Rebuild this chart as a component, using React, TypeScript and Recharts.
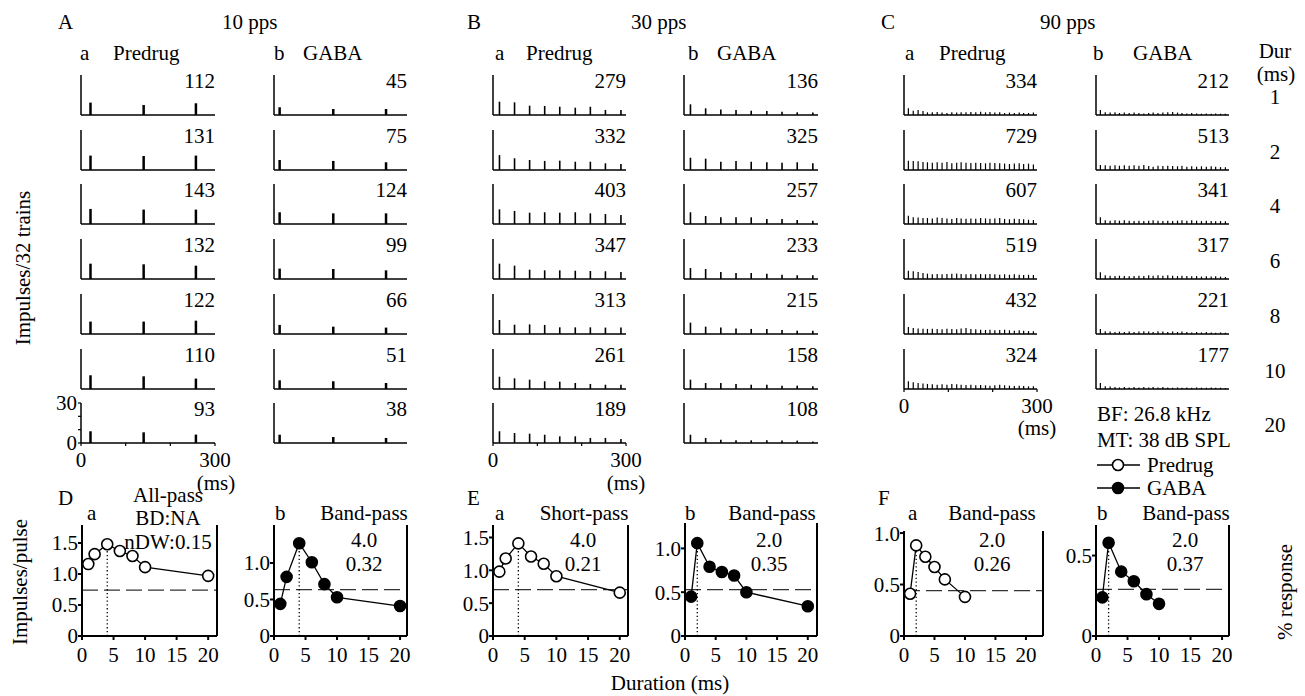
import React from 'react';
import { BarChart, Bar, LineChart, Line, XAxis, YAxis, ReferenceLine } from 'recharts';

const FONT = "'Liberation Serif', 'DejaVu Serif', serif";

const durations = [1, 2, 4, 6, 8, 10, 20];

// spike (pulse) times in ms for each pulse rate
const timesA_pre = [21, 140, 257];
const timesA_gaba = [13, 134, 253];
const timesB = [14, 48, 82, 116, 150, 185, 219, 253, 288];
const timesC = [9, 20, 31, 42, 52, 63, 74, 85, 96, 107, 118, 128, 139, 150, 161, 172, 183, 193, 204, 215, 226, 237, 248, 259, 269, 280, 291];

// total impulses per PSTH
const totalsA_pre = [112, 131, 143, 132, 122, 110, 93];
const totalsA_gaba = [45, 75, 124, 99, 66, 51, 38];
const totalsB_pre = [279, 332, 403, 347, 313, 261, 189];
const totalsB_gaba = [136, 325, 257, 233, 215, 158, 108];
const totalsC_pre = [334, 729, 607, 519, 432, 324];
const totalsC_gaba = [212, 513, 341, 317, 221, 177];

// peak bin counts (impulses/32 trains), one row per duration
const peaksA_pre = [
  [9.3, 7.5, 8.8],
  [10.8, 10.5, 10.8],
  [11.3, 10.8, 10.8],
  [11.5, 11, 10],
  [9.3, 9.3, 10],
  [10.3, 9.5, 7.8],
  [8.8, 8, 6.3],
];
const peaksA_gaba = [
  [5.8, 4.5, 4.5],
  [7.5, 6.8, 5.8],
  [8.8, 8, 8],
  [7.8, 7.5, 6.5],
  [6.8, 5.5, 4.8],
  [6.5, 5.8, 4.5],
  [6.2, 4.5, 3.8],
];
const peaksB_pre = [
  [10, 9.5, 7, 6.8, 6.2, 5.5, 6.2, 3.8, 3.8],
  [11.2, 8.8, 7.5, 6.8, 7, 6.2, 6.2, 5, 4.5],
  [11, 9.8, 8.5, 8.8, 8.5, 8.8, 8, 7.5, 6.8],
  [11.5, 10, 7, 6.5, 6.5, 6.2, 6, 5.8, 5.2],
  [10.5, 7, 7.2, 6.8, 5, 5, 5, 4.8, 4.8],
  [9.2, 8, 7, 5.8, 5.5, 4.5, 3.8, 3.2, 3.2],
  [8.8, 7.5, 7, 6.2, 5, 5, 3.8, 3.8, 3],
];
const peaksB_gaba = [
  [8, 5, 4.2, 3.8, 3.2, 3, 2.5, 2, 1.8],
  [9.2, 8.5, 6.2, 6.8, 6.2, 5.8, 5.5, 5.8, 5],
  [8.8, 6, 5, 5, 5, 3.8, 3.8, 3, 2.5],
  [8.2, 7.5, 5.2, 4.5, 4.5, 4, 3.2, 2.8, 2.8],
  [8.5, 5.5, 4.8, 4.2, 3.8, 3.8, 3, 2.5, 2.5],
  [7, 4.5, 4.5, 3.8, 3.2, 3.2, 2.5, 2.5, 2],
  [6.2, 3.8, 2.5, 2, 2, 2, 1.8, 1.8, 1.2],
];
const peaksC_pre = [
  [5, 3.2, 3.8, 3, 2, 2, 2.2, 1.8, 1.5, 2, 1.8, 2, 2, 2.2, 2, 2.5, 2, 2.2, 1.8, 2, 1.5, 1.8, 1.5, 1.8, 1.5, 1.5, 1.8],
  [7, 6.8, 6.5, 6, 5.8, 5.5, 5.8, 5.5, 6, 5, 5.5, 5.8, 5.5, 5.2, 5.5, 5.2, 5, 5.5, 5.2, 5, 4.8, 4.5, 4.8, 5, 4.5, 4.8, 4.2],
  [6.2, 5, 4.8, 4.5, 4.5, 4.2, 4.8, 4.5, 4.2, 3.8, 4.5, 4.2, 4, 4.2, 4, 4.5, 4.2, 4, 4.2, 4.5, 3.8, 3.5, 4, 3.8, 3.5, 3.2, 3],
  [6.2, 5.8, 5.2, 4.5, 4, 3.5, 3.8, 3.5, 3.8, 4, 4.2, 3.8, 3.5, 3.8, 3.5, 3.8, 3.5, 3.8, 3.5, 3.2, 3.5, 3.2, 3.5, 3.2, 3, 3.2, 3],
  [5.2, 4.5, 4.2, 4, 3.8, 4, 3.8, 3.5, 4, 3.8, 3.5, 4.2, 4.5, 3.8, 3.5, 3.2, 3, 3.2, 2.8, 3, 3.2, 2.8, 2.5, 2.8, 2.5, 2.2, 2],
  [5.8, 5, 4.5, 4.2, 3.8, 3.5, 3.2, 3.5, 3.2, 3.8, 3.5, 3.2, 3, 3.2, 2.8, 3, 2.8, 2.5, 2.8, 3.2, 2.8, 2.5, 2.2, 2.5, 2.2, 2, 2],
];
const peaksC_gaba = [
  [3.8, 2, 1.8, 2, 1.5, 1.8, 1.5, 1.8, 1.5, 1.2, 1.5, 1.8, 1.5, 1.8, 2, 2.2, 1.8, 1.5, 1.2, 1.5, 1.2, 1, 1.2, 1, 1.2, 1, 1],
  [3.8, 3.5, 3.2, 3.5, 3.2, 3.5, 3.2, 3.5, 3.2, 3.8, 3, 2.5, 3.2, 3, 3.2, 3, 2.8, 3.2, 2.5, 2.8, 2.5, 2.8, 2.5, 2.8, 2.5, 2.2, 2],
  [5, 2.8, 2.5, 2.8, 2.5, 2.8, 2.5, 2.2, 2.5, 2.2, 2.5, 2.8, 2.5, 2.2, 2.5, 2.2, 2.5, 2.8, 2.5, 2.8, 2.5, 2.2, 2.5, 2.2, 2, 2.2, 2],
  [5, 2.8, 2.5, 2.2, 2.5, 2.2, 2, 2.2, 2.5, 2.2, 2.8, 2.5, 2.8, 2.5, 2.8, 2.5, 2.2, 2.5, 2.2, 2, 2.2, 1.8, 2, 1.8, 2, 1.8, 1.5],
  [3.8, 2, 1.8, 1.5, 1.8, 1.5, 1.8, 1.5, 1.8, 2, 1.8, 1.5, 2, 1.8, 1.5, 1.8, 1.5, 1.8, 1.5, 1.2, 1.5, 1.2, 1.5, 1.2, 1, 1.2, 1],
  [4.5, 2, 1.8, 1.5, 1.2, 1.5, 1.2, 1.5, 1.2, 1.5, 1.2, 1.5, 1.2, 1.5, 1.2, 1, 1.2, 1, 1.2, 1, 1.2, 1, 1, 1.2, 1, 1, 0.8],
];

// duration tuning (impulses/pulse)
const durX = [1, 2, 4, 6, 8, 10, 20];
const D_pre = [1.16, 1.32, 1.48, 1.37, 1.29, 1.11, 0.97];
const D_gaba = [0.44, 0.81, 1.27, 1.01, 0.71, 0.53, 0.41];
const E_pre = [0.98, 1.18, 1.41, 1.21, 1.1, 0.91, 0.66];
const E_gaba = [0.45, 1.06, 0.79, 0.73, 0.69, 0.5, 0.34];
const F_pre_x = [1, 2, 3.5, 5, 6.7, 10];
const F_pre = [0.41, 0.88, 0.77, 0.67, 0.55, 0.38];
const F_gaba_x = [1, 2, 4, 6, 8, 10];
const F_gaba = [0.24, 0.58, 0.4, 0.34, 0.26, 0.2];

const rowBase = (i: number) => 115 + i * 54.7;

type PsthCol = {
  x0: number; x1: number; times: number[]; peaks: number[][]; totals: number[];
  barW: number; xLabels?: boolean; yLabels?: boolean;
};

const psthCols: PsthCol[] = [
  { x0: 81, x1: 215, times: timesA_pre, peaks: peaksA_pre, totals: totalsA_pre, barW: 2.5, xLabels: true, yLabels: true },
  { x0: 274, x1: 407, times: timesA_gaba, peaks: peaksA_gaba, totals: totalsA_gaba, barW: 2.5 },
  { x0: 493, x1: 626, times: timesB, peaks: peaksB_pre, totals: totalsB_pre, barW: 1.6, xLabels: true },
  { x0: 684, x1: 818, times: timesB, peaks: peaksB_gaba, totals: totalsB_gaba, barW: 1.6 },
  { x0: 904, x1: 1037, times: timesC, peaks: peaksC_pre, totals: totalsC_pre, barW: 1.2, xLabels: true },
  { x0: 1096, x1: 1229, times: timesC, peaks: peaksC_gaba, totals: totalsC_gaba, barW: 1.2 },
];

const axisStyle = { stroke: '#000', strokeWidth: 1.5 };
const tickFont = { fontSize: 21, fill: '#000', fontFamily: FONT };

function Psth({ col, row }: { col: PsthCol; row: number }) {
  const base = rowBase(row);
  const H = 40;
  const W = col.x1 - col.x0;
  const yW = 40, mT = 14, mR = 24, xH = 32;
  const last = row === col.totals.length - 1;
  const data = col.times.map((t, i) => ({ t, c: col.peaks[row][i] }));
  return (
    <div style={{ position: 'absolute', left: col.x0 - yW, top: base - H - mT }}>
      <BarChart width={yW + W + mR} height={mT + H + xH} data={data} margin={{ top: mT, right: mR, bottom: 0, left: 0 }}>
        <XAxis type="number" dataKey="t" domain={[0, 300]} ticks={[0, 100, 200, 300]} interval={0}
          height={xH} tickSize={3} tickMargin={6} axisLine={axisStyle} tickLine={{ stroke: '#000', strokeWidth: 1.2 }}
          tick={last && col.xLabels ? tickFont : false}
          tickFormatter={(v: number) => (v === 0 || v === 300 ? String(v) : '')} />
        <YAxis type="number" domain={[0, 30]} ticks={[0, 10, 20, 30]} interval={0} width={yW}
          tickSize={3} tickMargin={1} axisLine={axisStyle} tickLine={{ stroke: '#000', strokeWidth: 1.2 }}
          tick={last && col.yLabels ? tickFont : false}
          tickFormatter={(v: number) => (v === 0 || v === 30 ? String(v) : '')} />
        <Bar dataKey="c" fill="#000" barSize={col.barW} isAnimationActive={false} />
      </BarChart>
    </div>
  );
}

type TuneCfg = {
  x0: number; x1: number; top: number; xMax: number; yTop: number; yTicks: number[];
  xs: number[]; ys: number[]; filled: boolean; rightLabels: boolean;
};

const tuning: TuneCfg[] = [
  { x0: 82, x1: 217, top: 525, xMax: 21.4, yTop: 1.79, yTicks: [0, 0.5, 1, 1.5], xs: durX, ys: D_pre, filled: false, rightLabels: false },
  { x0: 274, x1: 407, top: 525, xMax: 21.1, yTop: 1.52, yTicks: [0, 0.5, 1], xs: durX, ys: D_gaba, filled: true, rightLabels: true },
  { x0: 493, x1: 628, top: 525, xMax: 21.3, yTop: 1.69, yTicks: [0, 0.5, 1, 1.5], xs: durX, ys: E_pre, filled: false, rightLabels: false },
  { x0: 685, x1: 817, top: 523, xMax: 21.5, yTop: 1.29, yTicks: [0, 0.5, 1], xs: durX, ys: E_gaba, filled: true, rightLabels: true },
  { x0: 904, x1: 1043, top: 531, xMax: 22.8, yTop: 1.02, yTicks: [0, 0.5, 1], xs: F_pre_x, ys: F_pre, filled: false, rightLabels: false },
  { x0: 1096, x1: 1229, top: 525, xMax: 21.1, yTop: 0.69, yTicks: [0, 0.5], xs: F_gaba_x, ys: F_gaba, filled: true, rightLabels: true },
];

const BOTTOM = 636;
const thick = { stroke: '#000', strokeWidth: 2 };

function Tuning({ cfg }: { cfg: TuneCfg }) {
  const yW = 50, rW = 50, mT = 14, xH = 36;
  const W = cfg.x1 - cfg.x0;
  const H = BOTTOM - cfg.top;
  const data = cfg.xs.map((x, i) => ({ x, y: cfg.ys[i] }));
  const peak = Math.max(...cfg.ys);
  const peakX = cfg.xs[cfg.ys.indexOf(peak)];
  return (
    <div style={{ position: 'absolute', left: cfg.x0 - yW, top: cfg.top - mT }}>
      <LineChart width={yW + W + rW} height={mT + H + xH} data={data} margin={{ top: mT, right: 0, bottom: 0, left: 0 }}>
        <XAxis type="number" dataKey="x" domain={[0, cfg.xMax]} ticks={[0, 5, 10, 15, 20]} interval={0}
          height={xH} tickSize={4} tickMargin={7} axisLine={thick} tickLine={thick} tick={tickFont} />
        <YAxis yAxisId="l" type="number" domain={[0, cfg.yTop]} ticks={cfg.yTicks} interval={0} width={yW}
          tickSize={4} tickMargin={0} axisLine={thick} tickLine={thick} tick={tickFont}
          tickFormatter={(v: number) => (v === 0 ? '0' : v.toFixed(1))} />
        <YAxis yAxisId="r" orientation="right" type="number" domain={[0, (cfg.yTop / peak) * 100]}
          ticks={[0, 25, 50, 75, 100]} interval={0} width={rW} tickSize={4} tickMargin={2}
          axisLine={thick} tickLine={thick} tick={cfg.rightLabels ? tickFont : false}
          tickFormatter={(v: number) => (v % 50 === 0 ? String(v) : '')} />
        <ReferenceLine yAxisId="l" y={peak / 2} stroke="#333" strokeWidth={1.3} strokeDasharray="16 6" />
        <ReferenceLine yAxisId="l" segment={[{ x: peakX, y: 0 }, { x: peakX, y: peak }]} stroke="#000" strokeWidth={1.3} strokeDasharray="1.3 2.5" />
        <Line yAxisId="l" type="linear" dataKey="y" stroke="#000" strokeWidth={1.3} isAnimationActive={false}
          dot={{ r: 5.5, fill: cfg.filled ? '#000' : '#fff', stroke: '#000', strokeWidth: 1.6 }} />
      </LineChart>
    </div>
  );
}

type Lbl = { s: string; x: number; y: number; a?: 'start' | 'middle' | 'end' };

const labels: Lbl[] = [
  { s: 'A', x: 58, y: 29 }, { s: '10 pps', x: 222, y: 29 },
  { s: 'B', x: 467, y: 29 }, { s: '30 pps', x: 631, y: 29 },
  { s: 'C', x: 881, y: 29 }, { s: '90 pps', x: 1040, y: 29 },
  { s: 'a', x: 80, y: 60 }, { s: 'Predrug', x: 113, y: 60 }, { s: 'b', x: 274, y: 60 }, { s: 'GABA', x: 303, y: 60 },
  { s: 'a', x: 495, y: 60 }, { s: 'Predrug', x: 526, y: 60 }, { s: 'b', x: 688, y: 60 }, { s: 'GABA', x: 717, y: 60 },
  { s: 'a', x: 905, y: 60 }, { s: 'Predrug', x: 939, y: 60 }, { s: 'b', x: 1093, y: 60 }, { s: 'GABA', x: 1133, y: 60 },
  { s: 'Dur', x: 1275, y: 58, a: 'middle' }, { s: '(ms)', x: 1276, y: 81, a: 'middle' },
  { s: '(ms)', x: 216, y: 490, a: 'middle' }, { s: '(ms)', x: 626, y: 490, a: 'middle' }, { s: '(ms)', x: 1037, y: 435, a: 'middle' },
  { s: 'BF: 26.8 kHz', x: 1097, y: 421 }, { s: 'MT: 38 dB SPL', x: 1097, y: 447 },
  { s: 'Predrug', x: 1147, y: 472 }, { s: 'GABA', x: 1147, y: 495 },
  { s: 'D', x: 58, y: 505 }, { s: 'E', x: 467, y: 505 }, { s: 'F', x: 878, y: 505 },
  { s: 'a', x: 87, y: 520 }, { s: 'b', x: 275, y: 520 }, { s: 'a', x: 495, y: 520 },
  { s: 'b', x: 685, y: 520 }, { s: 'a', x: 908, y: 520 }, { s: 'b', x: 1097, y: 520 },
  { s: 'All-pass', x: 168, y: 502, a: 'middle' }, { s: 'BD:NA', x: 168, y: 525, a: 'middle' }, { s: 'nDW:0.15', x: 168, y: 549, a: 'middle' },
  { s: 'Band-pass', x: 364, y: 520, a: 'middle' }, { s: '4.0', x: 364, y: 547, a: 'middle' }, { s: '0.32', x: 364, y: 571, a: 'middle' },
  { s: 'Short-pass', x: 584, y: 520, a: 'middle' }, { s: '4.0', x: 583, y: 547, a: 'middle' }, { s: '0.21', x: 583, y: 571, a: 'middle' },
  { s: 'Band-pass', x: 772, y: 520, a: 'middle' }, { s: '2.0', x: 769, y: 547, a: 'middle' }, { s: '0.35', x: 769, y: 571, a: 'middle' },
  { s: 'Band-pass', x: 992, y: 520, a: 'middle' }, { s: '2.0', x: 992, y: 547, a: 'middle' }, { s: '0.26', x: 992, y: 571, a: 'middle' },
  { s: 'Band-pass', x: 1186, y: 520, a: 'middle' }, { s: '2.0', x: 1185, y: 547, a: 'middle' }, { s: '0.37', x: 1185, y: 571, a: 'middle' },
  { s: 'Duration (ms)', x: 670, y: 690, a: 'middle' },
];

const rotated: Lbl[] = [
  { s: 'Impulses/32 trains', x: 30, y: 268 },
  { s: 'Impulses/pulse', x: 27, y: 582 },
  { s: '% response', x: 1292, y: 592 },
];

export default function App() {
  return (
    <div style={{ position: 'absolute', left: 0, top: 0, width: 1305, height: 696, background: '#fff', fontFamily: FONT, overflow: 'hidden' }}>
      {psthCols.map((col, ci) => col.totals.map((_, ri) => <Psth key={`${ci}-${ri}`} col={col} row={ri} />))}
      {tuning.map((cfg, i) => <Tuning key={i} cfg={cfg} />)}
      <svg width={1305} height={696} style={{ position: 'absolute', left: 0, top: 0, pointerEvents: 'none', fontFamily: FONT }}
        fontSize={21} fill="#000">
        {labels.map((l, i) => (
          <text key={i} x={l.x} y={l.y} textAnchor={l.a || 'start'}>{l.s}</text>
        ))}
        {psthCols.map((col, ci) => col.totals.map((tot, ri) => (
          <text key={`t${ci}-${ri}`} x={col.x1} y={rowBase(ri) - 27} textAnchor="end">{tot}</text>
        )))}
        {durations.map((d, i) => (
          <text key={`d${i}`} x={1275} y={rowBase(i) - 11} textAnchor="middle">{d}</text>
        ))}
        {rotated.map((l, i) => (
          <text key={`r${i}`} transform={`translate(${l.x},${l.y}) rotate(-90)`} textAnchor="middle">{l.s}</text>
        ))}
        <line x1={1097} x2={1140} y1={465} y2={465} stroke="#000" strokeWidth={1.5} />
        <circle cx={1118} cy={465} r={5.5} fill="#fff" stroke="#000" strokeWidth={1.6} />
        <line x1={1097} x2={1140} y1={488} y2={488} stroke="#000" strokeWidth={1.5} />
        <circle cx={1118} cy={488} r={5.5} fill="#000" stroke="#000" strokeWidth={1.6} />
      </svg>
    </div>
  );
}
